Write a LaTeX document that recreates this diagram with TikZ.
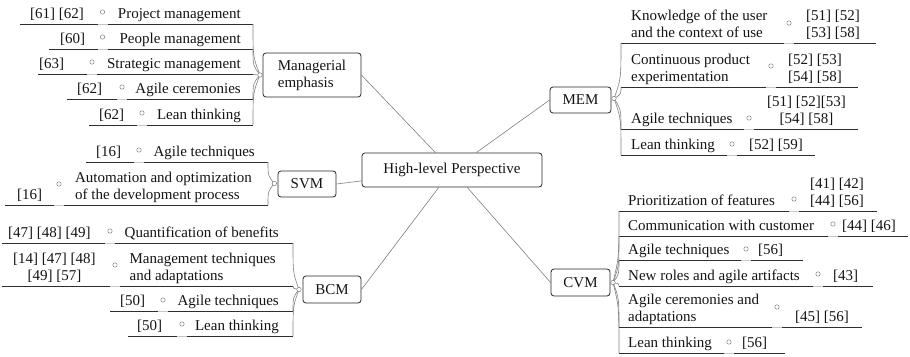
\documentclass[tikz,border=0pt]{standalone}
\usepackage{fontspec}
\setmainfont{Liberation Serif}
\usetikzlibrary{calc}
\newcommand\mll[1]{\begin{tabular}[b]{@{}l@{}}#1\end{tabular}}
\newcommand\mlc[1]{\begin{tabular}[b]{@{}c@{}}#1\end{tabular}}
% left-side leaf: id, underline y, x left, x right, circle (x,y), ref x (left), main x (right), ref, main
\newcommand\lleaf[9]{%
  \coordinate (#1L) at (#3,#2);
  \coordinate (#1R) at (#4,#2);
  \coordinate (#1o) at (#5);
  \coordinate (#1g) at (#1o |- #1L);
  \draw[uline] (#1L) -- ($(#1g)+(-5,0)$);
  \draw[gapline] ($(#1g)+(-5,0)$) -- ($(#1g)+(5,0)$);
  \draw[uline] ($(#1g)+(5,0)$) -- (#1R);
  \node[dot] (#1c) at (#1o) {};
  \node[txt, anchor=base west] (#1a) at (#6,#2-6) {#8};
  \node[txt, anchor=base east] (#1b) at (#7,#2-6) {#9};
}
% right-side leaf: id, underline y, x left, x right, circle (x,y), main x (left), ref x (left), main, ref
\newcommand\rleaf[9]{%
  \coordinate (#1L) at (#3,#2);
  \coordinate (#1R) at (#4,#2);
  \coordinate (#1o) at (#5);
  \coordinate (#1g) at (#1o |- #1L);
  \draw[uline] (#1L) -- ($(#1g)+(-5,0)$);
  \draw[gapline] ($(#1g)+(-5,0)$) -- ($(#1g)+(5,0)$);
  \draw[uline] ($(#1g)+(5,0)$) -- (#1R);
  \node[dot] (#1c) at (#1o) {};
  \node[txt, anchor=base west] (#1a) at (#6,#2-6) {#8};
  \node[txt, anchor=base west] (#1b) at (#7,#2-6) {#9};
}
\begin{document}
\begin{tikzpicture}[x=1pt,y=-1pt,
  txt/.style={inner sep=0pt, font=\fontsize{15}{17}\selectfont, text=black!92},
  box/.style={draw=black!85, line width=0.8pt, rounded corners=3pt, fill=white, inner sep=0pt,
    font=\fontsize{15}{17}\selectfont, align=center, text=black!92},
  uline/.style={draw=black!82, line width=1pt},
  gapline/.style={draw=black!22, line width=1pt},
  conn/.style={draw=black!50, line width=0.6pt},
  dot/.style={circle, draw=black!50, fill=white, inner sep=0pt, minimum size=4.4pt, line width=0.5pt}]
\useasboundingbox (0,0) rectangle (910,356);
\fill[white] (0,0) rectangle (910,356);

% main topics
\node[box, minimum width=180pt, minimum height=34pt] (hlp) at (452,170) {High-level Perspective};
\node[box, minimum width=98pt, minimum height=44pt, align=left] (man) at (312,75) {Managerial\\emphasis};
\node[box, minimum width=61pt, minimum height=26pt] (mem) at (580.5,100) {MEM};
\node[box, minimum width=58pt, minimum height=26pt] (svm) at (307,184) {SVM};
\node[box, minimum width=58pt, minimum height=27pt] (bcm) at (332,289.5) {BCM};
\node[box, minimum width=59pt, minimum height=27pt] (cvm) at (580.5,282.5) {CVM};

\draw[conn] (man.east) -- (hlp);
\draw[conn] (mem.west) -- (hlp);
\draw[conn] (svm.east) -- (hlp);
\draw[conn] (bcm.east) -- (hlp);
\draw[conn] (cvm.west) -- (hlp);

\coordinate (manp) at ($(man.west)+(-2.6,0)$);
\coordinate (svmp) at ($(svm.west)+(-3.2,-0.5)$);
\coordinate (bcmp) at ($(bcm.west)+(-3.6,0)$);
\coordinate (memp) at ($(mem.east)+(2.6,-1.5)$);
\coordinate (cvmp) at ($(cvm.east)+(2.6,0)$);

% Managerial emphasis
\lleaf{ma1}{24}{20}{253}{102.5,12}{30}{241}{[61] [62]}{Project management}
\lleaf{ma2}{49}{49}{253}{102.5,37}{60}{241}{[60]}{People management}
\lleaf{ma3}{74}{38}{253}{92,62}{39}{241}{[63]}{Strategic management}
\lleaf{ma4}{99}{67}{253}{122,87}{77}{241}{[62]}{Agile ceremonies}
\lleaf{ma5}{125}{89}{253}{142,113}{99}{241}{[62]}{Lean thinking}

% SVM
\lleaf{sv1}{162}{86}{268}{139,150}{96}{255}{[16]}{Agile techniques}
\lleaf{sv2}{205}{5}{268}{59,184}{17}{252}{[16]}{\mll{Automation and optimization\\{}of the development process}}

% BCM
\lleaf{bc1}{243}{2}{293}{110,231}{8}{279}{[47] [48] [49]}{Quantification of benefits}
\lleaf{bc2}{286}{2}{293}{115,265}{13}{276}{\mlc{[14] [47] [48]\\{}[49] [57]}}{\mll{Management techniques\\{}and adaptations}}
\lleaf{bc3}{311}{110}{293}{163,300}{120}{279}{[50]}{Agile techniques}
\lleaf{bc4}{336}{128}{293}{182,324}{137}{279}{[50]}{Lean thinking}

% MEM
\rleaf{me1}{43}{621}{876}{789,23}{631}{806}{\mll{Knowledge of the user\\{}and the context of use}}{\mlc{[51] [52]\\{}[53] [58]}}
\rleaf{me2}{87}{621}{858}{771,66}{631}{788}{\mll{Continuous product\\{}experimentation}}{\mlc{[52] [53]\\{}[54] [58]}}
\rleaf{me3}{129}{621}{858}{749,118}{631}{767}{Agile techniques}{\mlc{[51] [52][53]\\{}[54] [58]}}
\rleaf{me4}{155}{621}{815}{732,144}{631}{749}{Lean thinking}{[52] [59]}

% CVM
\rleaf{cv1}{211}{619}{877}{794,199}{628}{810}{Prioritization of features}{\mlc{[41] [42]\\{}[44] [56]}}
\rleaf{cv2}{236}{619}{908}{833,224}{628}{842}{Communication with customer}{[44] [46]}
\rleaf{cv3}{260}{619}{803}{746,249}{628}{758}{Agile techniques}{[56]}
\rleaf{cv4}{286}{619}{873}{818,274}{628}{833}{New roles and agile artifacts}{[43]}
\rleaf{cv5}{327}{619}{862}{777,307}{628}{795}{\mll{Agile ceremonies and\\{}adaptations}}{[45] [56]}
\rleaf{cv6}{353}{619}{785}{729,342}{628}{742}{Lean thinking}{[56]}

% braces
\foreach \lf in {ma1,ma2,ma3,ma4,ma5}
  {\draw[conn] (manp) .. controls ($(\lf R |- manp)!0.35!(\lf R)$) .. (\lf R);}
\foreach \lf in {sv1,sv2}
  {\draw[conn] (svmp) .. controls ($(\lf R |- svmp)!0.35!(\lf R)$) .. (\lf R);}
\foreach \lf in {bc1,bc2,bc3,bc4}
  {\draw[conn] (bcmp) .. controls ($(\lf R |- bcmp)!0.35!(\lf R)$) .. (\lf R);}
\foreach \lf in {me1,me2,me3,me4}
  {\draw[conn] (memp) .. controls ($(\lf L |- memp)!0.35!(\lf L)$) .. (\lf L);}
\foreach \lf in {cv1,cv2,cv3,cv4,cv5,cv6}
  {\draw[conn] (cvmp) .. controls ($(\lf L |- cvmp)!0.35!(\lf L)$) .. (\lf L);}

\node[dot] (manc) at (manp) {};
\node[dot] (svmc) at (svmp) {};
\node[dot] (bcmc) at (bcmp) {};
\node[dot] (memc) at (memp) {};
\node[dot] (cvmc) at (cvmp) {};
\end{tikzpicture}
\end{document}
